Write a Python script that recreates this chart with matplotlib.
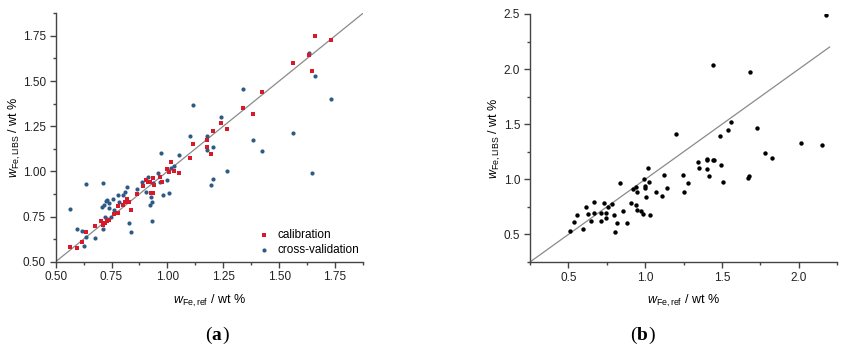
import numpy as np
import matplotlib
matplotlib.use("Agg")
import matplotlib.pyplot as plt
from matplotlib.ticker import MultipleLocator, FormatStrFormatter

plt.rcParams["font.family"] = ["Liberation Sans", "DejaVu Sans"]
plt.rcParams["mathtext.fontset"] = "custom"
plt.rcParams["mathtext.rm"] = "Liberation Sans"
plt.rcParams["mathtext.it"] = "Liberation Sans:italic"

# ==========================
# (a) calibration / cross-validation
# ==========================
cal_ref = [0.564, 0.597, 0.619, 0.636, 0.678, 0.703, 0.710, 0.721, 0.728, 0.740,
           0.763, 0.778, 0.781, 0.800, 0.810, 0.821, 0.827, 0.837, 0.866, 0.890,
           0.903, 0.912, 0.921, 0.927, 0.934, 0.936, 0.940, 0.978, 0.967, 0.997,
           1.006, 1.015, 1.031, 1.052, 1.101, 1.116, 1.179, 1.179, 1.194, 1.206,
           1.240, 1.266, 1.339, 1.381, 1.425, 1.560, 1.633, 1.648, 1.660, 1.731]
cal_libs = [0.583, 0.574, 0.607, 0.663, 0.699, 0.723, 0.703, 0.712, 0.725, 0.731,
            0.764, 0.808, 0.771, 0.814, 0.832, 0.845, 0.829, 0.786, 0.875, 0.921,
            0.952, 0.943, 0.940, 0.882, 0.962, 0.882, 0.923, 0.943, 0.967, 1.012,
            0.997, 1.052, 1.004, 0.989, 1.074, 1.150, 1.174, 1.137, 1.096, 1.224,
            1.266, 1.235, 1.351, 1.316, 1.438, 1.599, 1.643, 1.554, 1.747, 1.728]

cv_ref = [0.564, 0.597, 0.619, 0.634, 0.627, 0.636, 0.678, 0.710, 0.706, 0.713,
          0.718, 0.725, 0.731, 0.722, 0.731, 0.739, 0.737, 0.746, 0.755, 0.763,
          0.781, 0.785, 0.800, 0.810, 0.821, 0.828, 0.837, 0.866, 0.885, 0.903,
          0.912, 0.921, 0.925, 0.933, 0.931, 0.937, 0.960, 0.972, 0.967, 0.982,
          0.997, 1.009, 1.016, 1.031, 1.052, 1.101, 1.116, 1.179, 1.179, 1.194,
          1.206, 1.206, 1.240, 1.266, 1.339, 1.381, 1.425, 1.560, 1.633, 1.648,
          1.660, 1.731]
cv_libs = [0.790, 0.679, 0.670, 0.635, 0.587, 0.928, 0.629, 0.934, 0.805, 0.679,
           0.814, 0.836, 0.842, 0.749, 0.735, 0.799, 0.823, 0.749, 0.845, 0.786,
           0.869, 0.832, 0.869, 0.884, 0.912, 0.712, 0.666, 0.901, 0.943, 0.888,
           0.971, 0.812, 0.856, 0.832, 0.727, 0.934, 0.989, 1.104, 0.943, 0.869,
           0.952, 0.882, 1.017, 1.030, 1.091, 1.196, 1.368, 1.196, 1.119, 0.925,
           0.956, 1.137, 1.300, 1.002, 1.455, 1.174, 1.115, 1.211, 1.654, 0.989,
           1.529, 1.399]

# ==========================
# (b) test set
# ==========================
test_ref = [0.513, 0.539, 0.554, 0.596, 0.616, 0.626, 0.644, 0.664, 0.664, 0.714,
            0.714, 0.731, 0.742, 0.746, 0.757, 0.786, 0.796, 0.805, 0.818, 0.838,
            0.858, 0.882, 0.910, 0.921, 0.938, 0.938, 0.945, 0.949, 0.971, 0.986,
            0.991, 0.997, 0.999, 1.004, 1.019, 1.025, 1.034, 1.069, 1.108, 1.124,
            1.143, 1.198, 1.248, 1.254, 1.276, 1.341, 1.350, 1.400, 1.405, 1.405,
            1.416, 1.440, 1.444, 1.451, 1.485, 1.494, 1.505, 1.542, 1.557, 1.666,
            1.673, 1.679, 1.727, 1.778, 1.826, 2.017, 2.148, 2.179]
test_libs = [0.530, 0.615, 0.676, 0.545, 0.751, 0.685, 0.621, 0.790, 0.697, 0.624,
             0.697, 0.781, 0.651, 0.697, 0.751, 0.772, 0.676, 0.524, 0.606, 0.969,
             0.709, 0.600, 0.781, 0.911, 0.933, 0.766, 0.721, 0.887, 0.715, 0.682,
             0.999, 0.939, 0.918, 0.836, 1.105, 0.978, 0.676, 0.887, 0.851, 1.042,
             0.918, 1.411, 1.042, 0.887, 0.966, 1.157, 1.099, 1.187, 1.172, 1.093,
             1.030, 2.037, 1.172, 1.172, 1.393, 1.132, 0.978, 1.447, 1.520, 1.008,
             1.030, 1.971, 1.465, 1.235, 1.196, 1.332, 1.311, 2.491]

axis_col = "#444444"
red = "#d7192a"
blue = "#2d5b85"


def style_axes(ax):
    for side in ["top", "right"]:
        ax.spines[side].set_visible(False)
    for side in ["left", "bottom"]:
        ax.spines[side].set_color(axis_col)
        ax.spines[side].set_linewidth(1.0)
    ax.tick_params(which="major", direction="out", length=4, width=1,
                   color=axis_col, labelsize=8.5, labelcolor="#222222",
                   pad=3)
    ax.tick_params(which="minor", direction="out", length=2, width=1,
                   color=axis_col)


fig = plt.figure(figsize=(8.5, 3.54), dpi=100)

ax1 = fig.add_axes([0.0655, 0.2607, 0.3615, 0.7017])
ax1.plot([0.5, 1.875], [0.5, 1.875], color="#8a8a8a", lw=0.9, zorder=1)
ax1.scatter(cv_ref, cv_libs, s=9, marker="o", color=blue, lw=0,
            label="cross-validation", zorder=2)
ax1.scatter(cal_ref, cal_libs, s=9, marker="s", color=red, lw=0,
            label="calibration", zorder=3)
ax1.set_xlim(0.5, 1.875)
ax1.set_ylim(0.5, 1.875)
ax1.xaxis.set_major_locator(MultipleLocator(0.25))
ax1.xaxis.set_minor_locator(MultipleLocator(0.125))
ax1.yaxis.set_major_locator(MultipleLocator(0.25))
ax1.yaxis.set_minor_locator(MultipleLocator(0.125))
ax1.xaxis.set_major_formatter(FormatStrFormatter("%.2f"))
ax1.yaxis.set_major_formatter(FormatStrFormatter("%.2f"))
style_axes(ax1)
ax1.set_xlabel(r"$w_{\mathrm{Fe,ref}}$ / wt %", fontsize=9)
ax1.set_ylabel(r"$w_{\mathrm{Fe,LIBS}}$ / wt %", fontsize=9)
ax1.xaxis.set_label_coords(0.5, -0.125)
ax1.yaxis.set_label_coords(-0.105, 0.5)
handles, labels = ax1.get_legend_handles_labels()
ax1.legend(handles[::-1], labels[::-1], loc="lower right", frameon=False,
           fontsize=8.5, handletextpad=0.4, handlelength=1.5,
           bbox_to_anchor=(1.01, -0.005), borderaxespad=0.2, labelspacing=0.25)

ax2 = fig.add_axes([0.6235, 0.2599, 0.3615, 0.7006])
ax2.plot([0.25, 2.2], [0.25, 2.2], color="#8a8a8a", lw=0.9, zorder=1)
ax2.scatter(test_ref, test_libs, s=10, marker="o", color="black", lw=0,
            zorder=2)
ax2.set_xlim(0.25, 2.25)
ax2.set_ylim(0.25, 2.5)
ax2.xaxis.set_major_locator(MultipleLocator(0.5))
ax2.xaxis.set_minor_locator(MultipleLocator(0.25))
ax2.yaxis.set_major_locator(MultipleLocator(0.5))
ax2.yaxis.set_minor_locator(MultipleLocator(0.25))
ax2.xaxis.set_major_formatter(FormatStrFormatter("%.1f"))
ax2.yaxis.set_major_formatter(FormatStrFormatter("%.1f"))
style_axes(ax2)
ax2.set_xlabel(r"$w_{\mathrm{Fe,ref}}$ / wt %", fontsize=9)
ax2.set_ylabel(r"$w_{\mathrm{Fe,LIBS}}$ / wt %", fontsize=9)
ax2.xaxis.set_label_coords(0.5, -0.125)
ax2.yaxis.set_label_coords(-0.088, 0.5)

fig.text(0.249, 0.04, "(", fontsize=14, family="Liberation Serif", ha="right")
fig.text(0.249, 0.04, "a", fontsize=14, family="Liberation Serif",
         weight="bold", ha="left")
fig.text(0.262, 0.04, ")", fontsize=14, family="Liberation Serif", ha="left")
fig.text(0.749, 0.04, "(", fontsize=14, family="Liberation Serif", ha="right")
fig.text(0.749, 0.04, "b", fontsize=14, family="Liberation Serif",
         weight="bold", ha="left")
fig.text(0.763, 0.04, ")", fontsize=14, family="Liberation Serif", ha="left")

fig.savefig("out.png", dpi=100)
